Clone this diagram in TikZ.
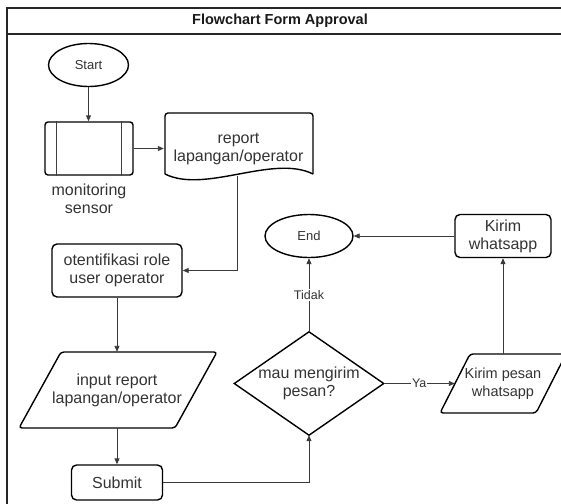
\documentclass[tikz,border=0pt]{standalone}
\usepackage{fontspec}
\setmainfont{Liberation Sans}
\usetikzlibrary{shapes.geometric,arrows.meta}
\definecolor{ink}{HTML}{333333}
\definecolor{wire}{HTML}{3A3A3A}
\begin{document}
\begin{tikzpicture}[x=1pt,y=-1pt,
  outline/.style={draw=black,line width=1.4pt},
  thinline/.style={draw=black!75,line width=1pt},
  box/.style={outline,rectangle,rounded corners=5pt,text=ink,align=center,
    font=\fontsize{16}{18}\selectfont,inner sep=0pt},
  ghost/.style={rectangle,draw=none,text=ink,align=center,
    font=\fontsize{16}{18}\selectfont,inner sep=0pt},
  terminal/.style={outline,ellipse,text=ink,font=\fontsize{13}{15}\selectfont,inner sep=0pt},
  flow/.style={draw=wire,line width=0.9pt,-{Triangle[length=6pt,width=5pt]}},
  lbl/.style={fill=white,text=ink,font=\fontsize{12.5}{14}\selectfont,inner sep=1pt},
  frame/.style={draw=black!85,line width=1.4pt}]
\useasboundingbox (0,0) rectangle (561,503);
\clip (0,0) rectangle (561,503);

% swimlane frame with title bar
\draw[frame] (7,520) -- (7,8) -- (580,8);
\draw[frame] (7,34) -- (580,34);
\node[font=\bfseries\fontsize{14.5}{16}\selectfont,text=black!90] (title) at (280,21) {Flowchart Form Approval};

% start terminal
\node[terminal,minimum width=80pt,minimum height=43pt] (start) at (88.5,65) {Start};

% predefined process: monitoring sensor
\node[box,rounded corners=3pt,minimum width=88pt,minimum height=53pt] (mon) at (89,148.5) {};
\draw[thinline] ([xshift=12pt]mon.north west) -- ([xshift=12pt]mon.south west);
\draw[thinline] ([xshift=-12pt]mon.north east) -- ([xshift=-12pt]mon.south east);
\node[ghost] (monlbl) at (89,198.5) {monitoring\\sensor};

% document: report lapangan/operator
\node[ghost,minimum width=149pt,minimum height=50pt] (doc) at (238.5,149) {report\\lapangan/operator};
\draw[outline,rounded corners=3pt] (165,174) -- (165,113) -- (313,113) -- (313,174);
\draw[outline] (165,174) .. controls (205,194) and (273,154) .. (313,174);
\coordinate (docb) at (237,176);

% process: otentifikasi
\node[box,minimum width=130pt,minimum height=53pt] (auth) at (117,270.5) {otentifikasi role\\user operator};

% input data
\node[ghost,minimum width=156pt,minimum height=76pt] (input) at (117,390) {input report\\lapangan/operator};
\draw[outline,rounded corners=3pt] (61,352) -- (217,352) -- (175,428) -- (19,428) -- cycle;

% submit
\node[box,minimum width=91pt,minimum height=35pt] (submit) at (117,482.5) {Submit};

% decision
\node[ghost,minimum width=149pt,minimum height=103pt] (dia) at (309,383.5) {mau mengirim\\pesan?};
\draw[outline] (dia.north) -- (dia.east) -- (dia.south) -- (dia.west) -- cycle;

% end terminal
\node[terminal,minimum width=88pt,minimum height=43pt] (end) at (309,236) {End};

% output: kirim pesan whatsapp
\node[ghost,font=\fontsize{14.5}{18}\selectfont,minimum width=96pt,minimum height=59pt] (kp) at (503,383.5) {Kirim pesan\\whatsapp};
\draw[outline,rounded corners=3pt] (470,354) -- (566,354) -- (536,413) -- (440,413) -- cycle;

% process: kirim whatsapp
\node[box,minimum width=96pt,minimum height=43pt] (kw) at (503,236) {Kirim\\whatsapp};

% connectors
\draw[flow] (start.south) -- (start.south |- mon.north);
\draw[flow] (mon.east) -- (mon.east -| doc.west);
\draw[flow] (docb) |- (auth.east);
\draw[flow] (auth.south) -- (auth.south |- input.north);
\draw[flow] (input.south) -- (input.south |- submit.north);
\draw[flow] (submit.east) -| (dia.south);
\draw[flow] (dia.north) -- node[lbl] {Tidak} (end.south);
\draw[flow] (dia.east) -- node[lbl] {Ya} (kp.west);
\draw[flow] (kp.north) -- (kw.south);
\draw[flow] (kw.west) -- (end.east);
\end{tikzpicture}
\end{document}
